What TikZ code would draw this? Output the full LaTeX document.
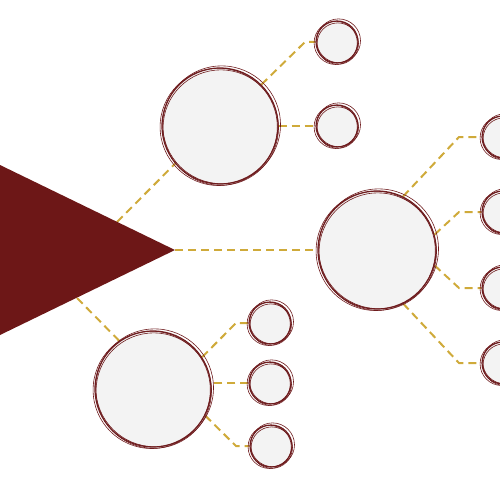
\documentclass[tikz,border=0pt]{standalone}
\usetikzlibrary{backgrounds}
\definecolor{tri}{HTML}{6D1717}
\definecolor{ring}{HTML}{6E1C1E}
\definecolor{gold}{HTML}{CFAA3A}
\definecolor{discfill}{HTML}{F3F3F3}
\newcommand\skc[4]{%
  \node[disc, minimum size={2*#4pt}] (#1) at (#2,#3) {};
  \draw[sk] (#2+1.6,#3-1.2) circle[radius=#4+0.9];
  \draw[sk] (#2-1.3,#3+0.9) circle[radius=#4+0.6];
  \draw[sk] (#2+0.8,#3+1.6) circle[radius=#4-0.3];
}
\begin{document}
\begin{tikzpicture}[x=1pt,y=-1pt,
  disc/.style={circle, draw=ring, fill=discfill, line width=1.2pt, inner sep=0pt},
  sk/.style={draw=ring, line width=0.6pt},
  link/.style={draw=gold, line width=2pt, dash pattern=on 8pt off 5pt}]
\useasboundingbox (0,0) rectangle (500,500);
\clip (0,0) rectangle (500,500);
% circles
\skc{A}{220}{126}{58}
\skc{A1}{337}{42}{21}
\skc{A2}{337}{126}{21}
\skc{B}{377}{250}{59}
\skc{B1}{503}{137}{21}
\skc{B2}{503}{212}{21}
\skc{B3}{503}{288}{21}
\skc{B4}{503}{363}{21}
\skc{C}{153}{389}{58}
\skc{C1}{270}{323}{21}
\skc{C2}{270}{383}{21}
\skc{C3}{271}{446}{21}
% triangle
\fill[tri] (0,165) -- (175,250) -- (0,335) -- cycle;
\coordinate (T1) at (117,222);
\coordinate (T2) at (175,250);
\coordinate (T3) at (77,298);
% elbows
\coordinate (eA1) at (305,42);
\coordinate (eB1) at (459,137);
\coordinate (eB2) at (459,212);
\coordinate (eB3) at (459,288);
\coordinate (eB4) at (459,363);
\coordinate (eC1) at (236,323);
\coordinate (eC3) at (236,446);
\begin{pgfonlayer}{background}
\draw[link] (T1) -- (A.220);
\draw[link] (T2) -- (B.west);
\draw[link] (T3) -- (C.125);
\draw[link] (A.45) -- (eA1) -- (A1.west);
\draw[link] (A.east) -- (A2.west);
\draw[link] (B.64) -- (eB1) -- (B1.west);
\draw[link] (B.15) -- (eB2) -- (B2.west);
\draw[link] (B.-15) -- (eB3) -- (B3.west);
\draw[link] (B.-64) -- (eB4) -- (B4.west);
\draw[link] (C.33) -- (eC1) -- (C1.west);
\draw[link] (C2.west) -- (C2.west -| C.east);
\draw[link] (C.-27) -- (eC3) -- (C3.west);
\end{pgfonlayer}
\end{tikzpicture}
\end{document}
